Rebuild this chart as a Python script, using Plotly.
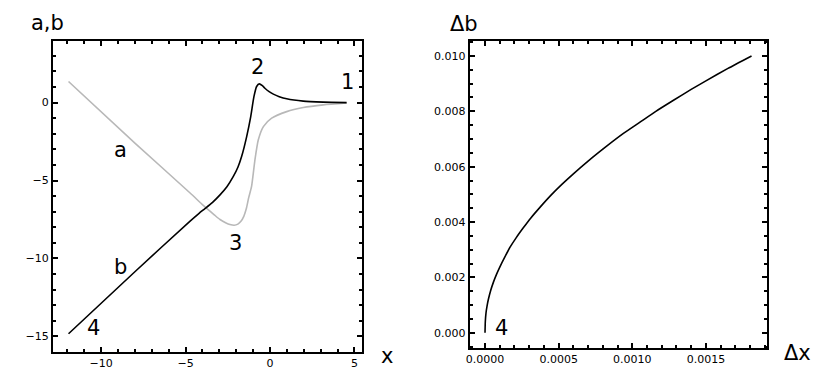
import plotly.graph_objects as go

# left panel: a(x) gray, b(x) black
a_x = [-11.93, -8.0, -4.73, -3.95, -3.3, -2.96, -2.6, -2.37, -2.12, -1.9, -1.72,
       -1.55, -1.4, -1.26, -1.09, -0.89, -0.69, -0.39, 0.10, 0.99, 1.97, 3.16, 4.54]
a_y = [1.35, -2.6, -5.8, -6.6, -7.2, -7.5, -7.72, -7.82, -7.87, -7.8, -7.62,
       -7.3, -6.8, -6.1, -5.38, -3.67, -2.39, -1.54, -1.0, -0.58, -0.32, -0.15, -0.03]

b_x = [-11.93, -8.0, -4.73, -4.2, -3.85, -3.4, -2.96, -2.55, -2.17, -1.9, -1.68, -1.38, -1.14, -0.95,
       -0.79, -0.63, -0.45, -0.30, -0.05, 0.20, 0.55, 0.99, 1.97, 3.16, 4.54]
b_y = [-14.83, -10.85, -7.6, -7.1, -6.8, -6.4, -5.92, -5.4, -4.74, -4.15, -3.46, -2.18, -0.90, 0.38,
       1.03, 1.20, 1.08, 0.92, 0.70, 0.54, 0.38, 0.24, 0.09, 0.03, 0.0]

# right panel: delta b vs delta x
dx = [0, 0.000002, 0.0000068, 0.000014, 0.0000226, 0.000038, 0.0000566, 0.000078, 0.000102,
      0.000135, 0.00017, 0.00021, 0.00026, 0.00031, 0.000373, 0.00045, 0.00052, 0.0006,
      0.0007, 0.000826, 0.00094, 0.00105, 0.00116, 0.00128, 0.0014, 0.0015, 0.00165, 0.00181]
db = [0, 0.0004, 0.00072, 0.00097, 0.0012, 0.00152, 0.00182, 0.00211, 0.00239,
      0.00274, 0.00309, 0.00342, 0.00379, 0.00414, 0.00453, 0.00498, 0.00535, 0.00574,
      0.0062, 0.00674, 0.0072, 0.0076, 0.008, 0.0084, 0.00879, 0.0091, 0.00955, 0.0100]

left_labels = [("1", 4.62, 1.33), ("2", -0.71, 2.29), ("3", -2.07, -8.99),
               ("4", -10.47, -14.44), ("a", -8.88, -3.03), ("b", -8.88, -10.53)]
right_labels = [("4", 0.000109, 0.00017)]

TICKFONT = "DejaVu Sans"
LABFONT = "DejaVu Sans"
fig = go.Figure()
fig.add_trace(go.Scatter(x=a_x, y=a_y, mode="lines", line=dict(color="#b8b8b8", width=1.6, shape="spline", smoothing=0.6),
                         xaxis="x", yaxis="y"))
fig.add_trace(go.Scatter(x=b_x, y=b_y, mode="lines", line=dict(color="black", width=1.6, shape="spline", smoothing=0.6),
                         xaxis="x", yaxis="y"))
fig.add_trace(go.Scatter(x=dx, y=db, mode="lines", line=dict(color="black", width=1.6, shape="spline", smoothing=0.5),
                         xaxis="x2", yaxis="y2"))

axis_common = dict(showline=True, linecolor="black", linewidth=2, mirror="ticks",
                   ticks="inside", ticklen=5, tickwidth=1.5, tickcolor="black",
                   showgrid=False, zeroline=False, automargin=False,
                   tickfont=dict(family=TICKFONT, size=11, color="black"))

fig.update_layout(
    width=830, height=378,
    margin=dict(l=0, r=0, t=0, b=0, autoexpand=False),
    paper_bgcolor="white", plot_bgcolor="white",
    showlegend=False,
    xaxis=dict(domain=[53 / 830, 362 / 830], range=[-12.85, 5.45], anchor="y",
               tickvals=[-10, -5, 0, 5],
               minor=dict(ticks="inside", dtick=1, ticklen=3, tickcolor="black"),
               **axis_common),
    yaxis=dict(domain=[1 - 352 / 378, 1 - 41 / 378], range=[-16.0, 3.95], anchor="x",
               tickvals=[-15, -10, -5, 0],
               minor=dict(ticks="inside", dtick=1, ticklen=3, tickcolor="black"),
               **axis_common),
    xaxis2=dict(domain=[469.7 / 830, 767.3 / 830], range=[-0.000104, 0.001917], anchor="y2",
                tickvals=[0, 0.0005, 0.001, 0.0015], tickformat=".4f",
                minor=dict(ticks="inside", dtick=0.0001, ticklen=3, tickcolor="black"),
                **axis_common),
    yaxis2=dict(domain=[1 - 347.7 / 378, 1 - 41 / 378], range=[-0.00054, 0.01054], anchor="x2",
                tickvals=[0, 0.002, 0.004, 0.006, 0.008, 0.01], tickformat=".3f",
                minor=dict(ticks="inside", dtick=0.0005, ticklen=3, tickcolor="black"),
                **axis_common),
)

big = dict(family=LABFONT, size=21, color="black")
for txt, x, y in left_labels:
    fig.add_annotation(x=x, y=y, xref="x", yref="y", text=txt, showarrow=False, font=big)
for txt, x, y in right_labels:
    fig.add_annotation(x=x, y=y, xref="x2", yref="y2", text=txt, showarrow=False, font=big)

# axis names
names = [("a,b", 47, 23), ("x", 387, 356), ("Δb", 464, 24), ("Δx", 797, 353)]
for txt, px, py in names:
    fig.add_annotation(x=px / 830, y=1 - py / 378, xref="paper", yref="paper", text=txt,
                       showarrow=False, font=big, xanchor="center", yanchor="middle")

# page body has a default margin that shifts the figure; drop it
fig.write_html("out.html", post_script="document.body.style.margin='0';",
               config={"displayModeBar": False})
